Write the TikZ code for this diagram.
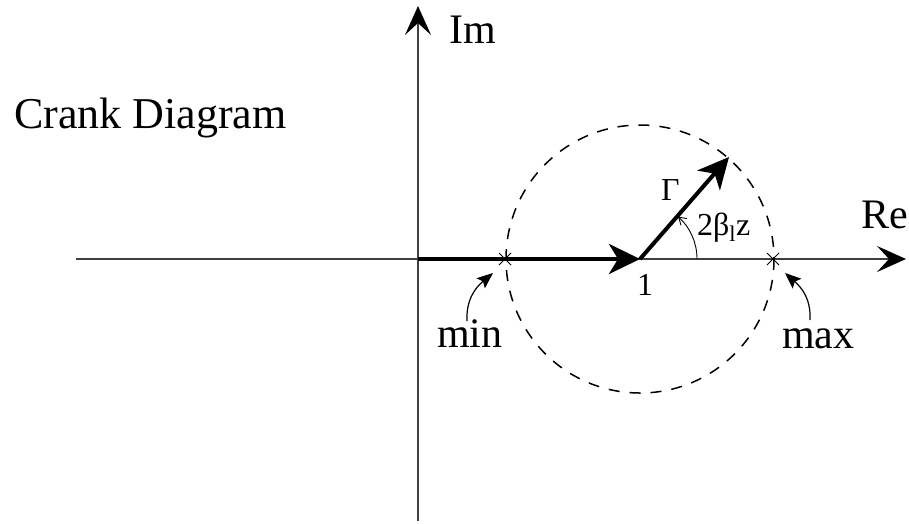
\documentclass[tikz,border=0pt]{standalone}
\usepackage{fontspec}
\setmainfont{Liberation Serif}
\usetikzlibrary{arrows.meta}
\begin{document}
\begin{tikzpicture}[x=1pt,y=-1pt,
  axis/.style={line width=1.3pt,draw=black!75},
  thickarrow/.style={line width=4pt,-{Stealth[length=31pt,width=30pt,inset=9pt]}},
  axisarrow/.style={axis,-{Stealth[length=29pt,width=26pt,inset=12pt,black]}},
  lbl/.style={font=\fontsize{42}{42}\selectfont,inner sep=0pt},
  small/.style={font=\fontsize{32}{32}\selectfont,inner sep=0pt},
  xmark/.style={line width=0.8pt},
  pointer/.style={line width=1.2pt,-{Stealth[length=16pt,width=13pt,inset=3pt]}}]
\useasboundingbox (0,0) rectangle (909,523);
% axes
\coordinate (reL) at (76,259);
\coordinate (reR) at (906,259);
\coordinate (imB) at (418,521);
\coordinate (imT) at (418,6);
\coordinate (O) at (418,259);
\coordinate (one) at (640,259);
\coordinate (gtip) at (729,157);
\coordinate (pmin) at (505,259);
\coordinate (pmax) at (773,259);
\coordinate (minS) at (467,321);
\coordinate (minT) at (493,273);
\coordinate (maxS) at (810,320);
\coordinate (maxT) at (785,273);
\draw[axisarrow] (reL) -- (reR);
\draw[axisarrow] (imB) -- (imT);
% circle
\draw[line width=1.5pt,dash pattern=on 11pt off 10pt] (one) circle (134);
% vectors
\draw[thickarrow] (O) -- (one);
\draw[thickarrow] (one) -- (gtip);
% angle
\draw[line width=0.9pt,-{Straight Barb[length=7pt,width=9pt]}] ([shift={(57,0)}]one) arc[start angle=0,end angle=-48,radius=57];
% markers
\foreach \p in {pmin,pmax}{
  \draw[xmark] ([shift={(-6,-6)}]\p) -- ([shift={(6,6)}]\p);
  \draw[xmark] ([shift={(-6,6)}]\p) -- ([shift={(6,-6)}]\p);
}
% labels
\node[lbl,font=\fontsize{44}{44}\selectfont,anchor=base west] (title) at (14,128) {Crank Diagram};
\node[lbl,anchor=base west] (im) at (449,43) {Im};
\node[lbl,anchor=base west] (re) at (861,228) {Re};
\node[lbl,anchor=base west] (min) at (437,347) {min};
\node[lbl,anchor=base west] (max) at (782,348) {max};
\node[small,anchor=base west] (gam) at (661,200) {Γ};
\node[small,anchor=base west] (ang) at (697,235) {2β\textsubscript{l}z};
\node[small,anchor=base west] (onel) at (637,295) {1};
% pointers
\draw[pointer] (minS) .. controls (466,300) and (475,288) .. (minT);
\draw[pointer] (maxS) .. controls (811,299) and (802,288) .. (maxT);
\end{tikzpicture}
\end{document}
